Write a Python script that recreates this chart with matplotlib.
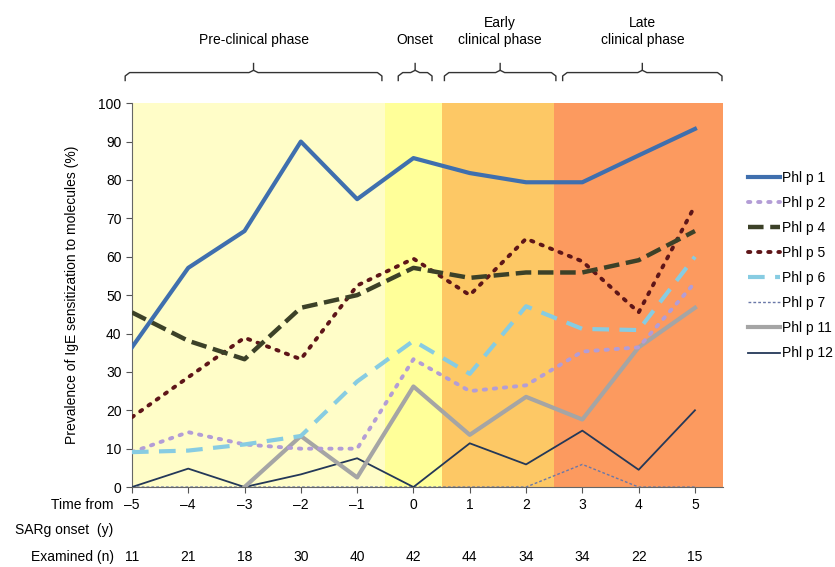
import matplotlib.pyplot as plt
import matplotlib.transforms as mtransforms
import numpy as np

plt.rcParams['font.family'] = ['Liberation Sans', 'DejaVu Sans']

years = [-5, -4, -3, -2, -1, 0, 1, 2, 3, 4, 5]
examined = [11, 21, 18, 30, 40, 42, 44, 34, 34, 22, 15]

phl_p1 = [36.4, 57.1, 66.7, 90.0, 75.0, 85.7, 81.8, 79.4, 79.4, 86.4, 93.3]
phl_p2 = [9.1, 14.3, 11.1, 10.0, 10.0, 33.3, 25.0, 26.5, 35.3, 36.4, 53.3]
phl_p4 = [45.5, 38.1, 33.3, 46.7, 50.0, 57.1, 54.5, 55.9, 55.9, 59.1, 66.7]
phl_p5 = [18.2, 28.6, 38.9, 33.3, 52.5, 59.5, 50.0, 64.7, 58.8, 45.5, 73.3]
phl_p6 = [9.1, 9.5, 11.1, 13.3, 27.5, 38.1, 29.5, 47.1, 41.2, 40.9, 60.0]
phl_p7 = [0, 0, 0, 0, 0, 0, 0, 0, 5.9, 0, 0]
phl_p11 = [np.nan, np.nan, 0, 13.3, 2.5, 26.2, 13.6, 23.5, 17.6, 36.4, 46.7]
phl_p12 = [0, 4.8, 0, 3.3, 7.5, 0, 11.4, 5.9, 14.7, 4.5, 20.0]

# phase shading: (start, end, colour)
phases = [(-5.5, -0.5, '#FFFDC8'), (-0.5, 0.5, '#FFFF99'),
          (0.5, 2.5, '#FDC865'), (2.5, 5.5, '#FC9A5F')]
# braces above the plot: (left, right, label)
braces = [(-5.12, -0.56, 'Pre-clinical phase'), (-0.27, 0.33, 'Onset'),
          (0.55, 2.53, 'Early\nclinical phase'), (2.65, 5.48, 'Late\nclinical phase')]

fig = plt.figure(figsize=(8.35, 5.67), dpi=100)
ax = fig.add_axes([0.158, 0.141, 0.708, 0.677])

for x0, x1, c in phases:
    ax.axvspan(x0, x1, color=c, lw=0, zorder=0)

ax.plot(years, phl_p7, color='#6A78A8', lw=1, ls=(0, (2, 1.5)), label='Phl p 7', zorder=2)
ax.plot(years, phl_p12, color='#243858', lw=1.3, label='Phl p 12', zorder=3)
ax.plot(years, phl_p11, color='#A5A5A5', lw=3, label='Phl p 11', zorder=3)
ax.plot(years, phl_p2, color='#B39DD6', lw=2.8, ls=(0, (0.6, 2.0)), dash_capstyle='round', label='Phl p 2', zorder=3)
ax.plot(years, phl_p6, color='#87CCE2', lw=3, ls=(0, (4, 2.5)), label='Phl p 6', zorder=3)
ax.plot(years, phl_p5, color='#5E1518', lw=2.8, ls=(0, (0.6, 2.0)), dash_capstyle='round', label='Phl p 5', zorder=4)
ax.plot(years, phl_p4, color='#3C4128', lw=3.2, ls=(0, (3.5, 1.5)), label='Phl p 4', zorder=4)
ax.plot(years, phl_p1, color='#3F6FAE', lw=3, label='Phl p 1', zorder=5)

ax.set_xlim(-5, 5.5)
ax.set_ylim(0, 100)
ax.set_yticks(range(0, 101, 10))
ax.set_xticks(years)
ax.set_xticklabels(['\u2013%d' % -y if y < 0 else str(y) for y in years])
ax.tick_params(labelsize=10, length=4, color='#555555')
ax.tick_params(axis='x', pad=4)
for s in ['top', 'right']:
    ax.spines[s].set_visible(False)
for s in ['left', 'bottom']:
    ax.spines[s].set_color('#666666')
ax.set_ylabel('Prevalence of IgE sensitization to molecules (%)', fontsize=10, labelpad=14)

# bottom row labels
trans = mtransforms.blended_transform_factory(ax.transData, fig.transFigure)
fig.text(0.136, 0.087, 'Time from\nSARg onset  (y)', ha='right', va='center',
         fontsize=10, linespacing=1.95)
fig.text(0.136, 0.018, 'Examined (n)', ha='right', va='center', fontsize=10)
for y, n in zip(years, examined):
    ax.text(y, 0.018, str(n), transform=trans, ha='center', va='center', fontsize=10)

# phase braces
for x0, x1, label in braces:
    xm = (x0 + x1) / 2
    r = 0.08
    yb, yl, yt = 0.858, 0.872, 0.888
    ax.plot([x0, x0, x0 + r, xm - r, xm, xm],
            [yb, yl - 0.006, yl, yl, yl + 0.004, yt],
            transform=trans, color='#333333', lw=1, clip_on=False)
    ax.plot([xm, xm + r, x1 - r, x1, x1],
            [yl + 0.004, yl, yl, yl - 0.006, yb],
            transform=trans, color='#333333', lw=1, clip_on=False)
    ax.text(xm, 0.917, label, transform=trans, ha='center', va='bottom',
            fontsize=10, linespacing=1.3)

handles, labels = ax.get_legend_handles_labels()
order = ['Phl p 1', 'Phl p 2', 'Phl p 4', 'Phl p 5', 'Phl p 6', 'Phl p 7', 'Phl p 11', 'Phl p 12']
hmap = dict(zip(labels, handles))
fig.legend([hmap[k] for k in order], order, loc='upper left',
           bbox_to_anchor=(0.896, 0.699), frameon=False, fontsize=10,
           handlelength=2.3, handletextpad=0.15, labelspacing=0.8,
           borderaxespad=0, borderpad=0)

fig.savefig('out.png', dpi=100)
